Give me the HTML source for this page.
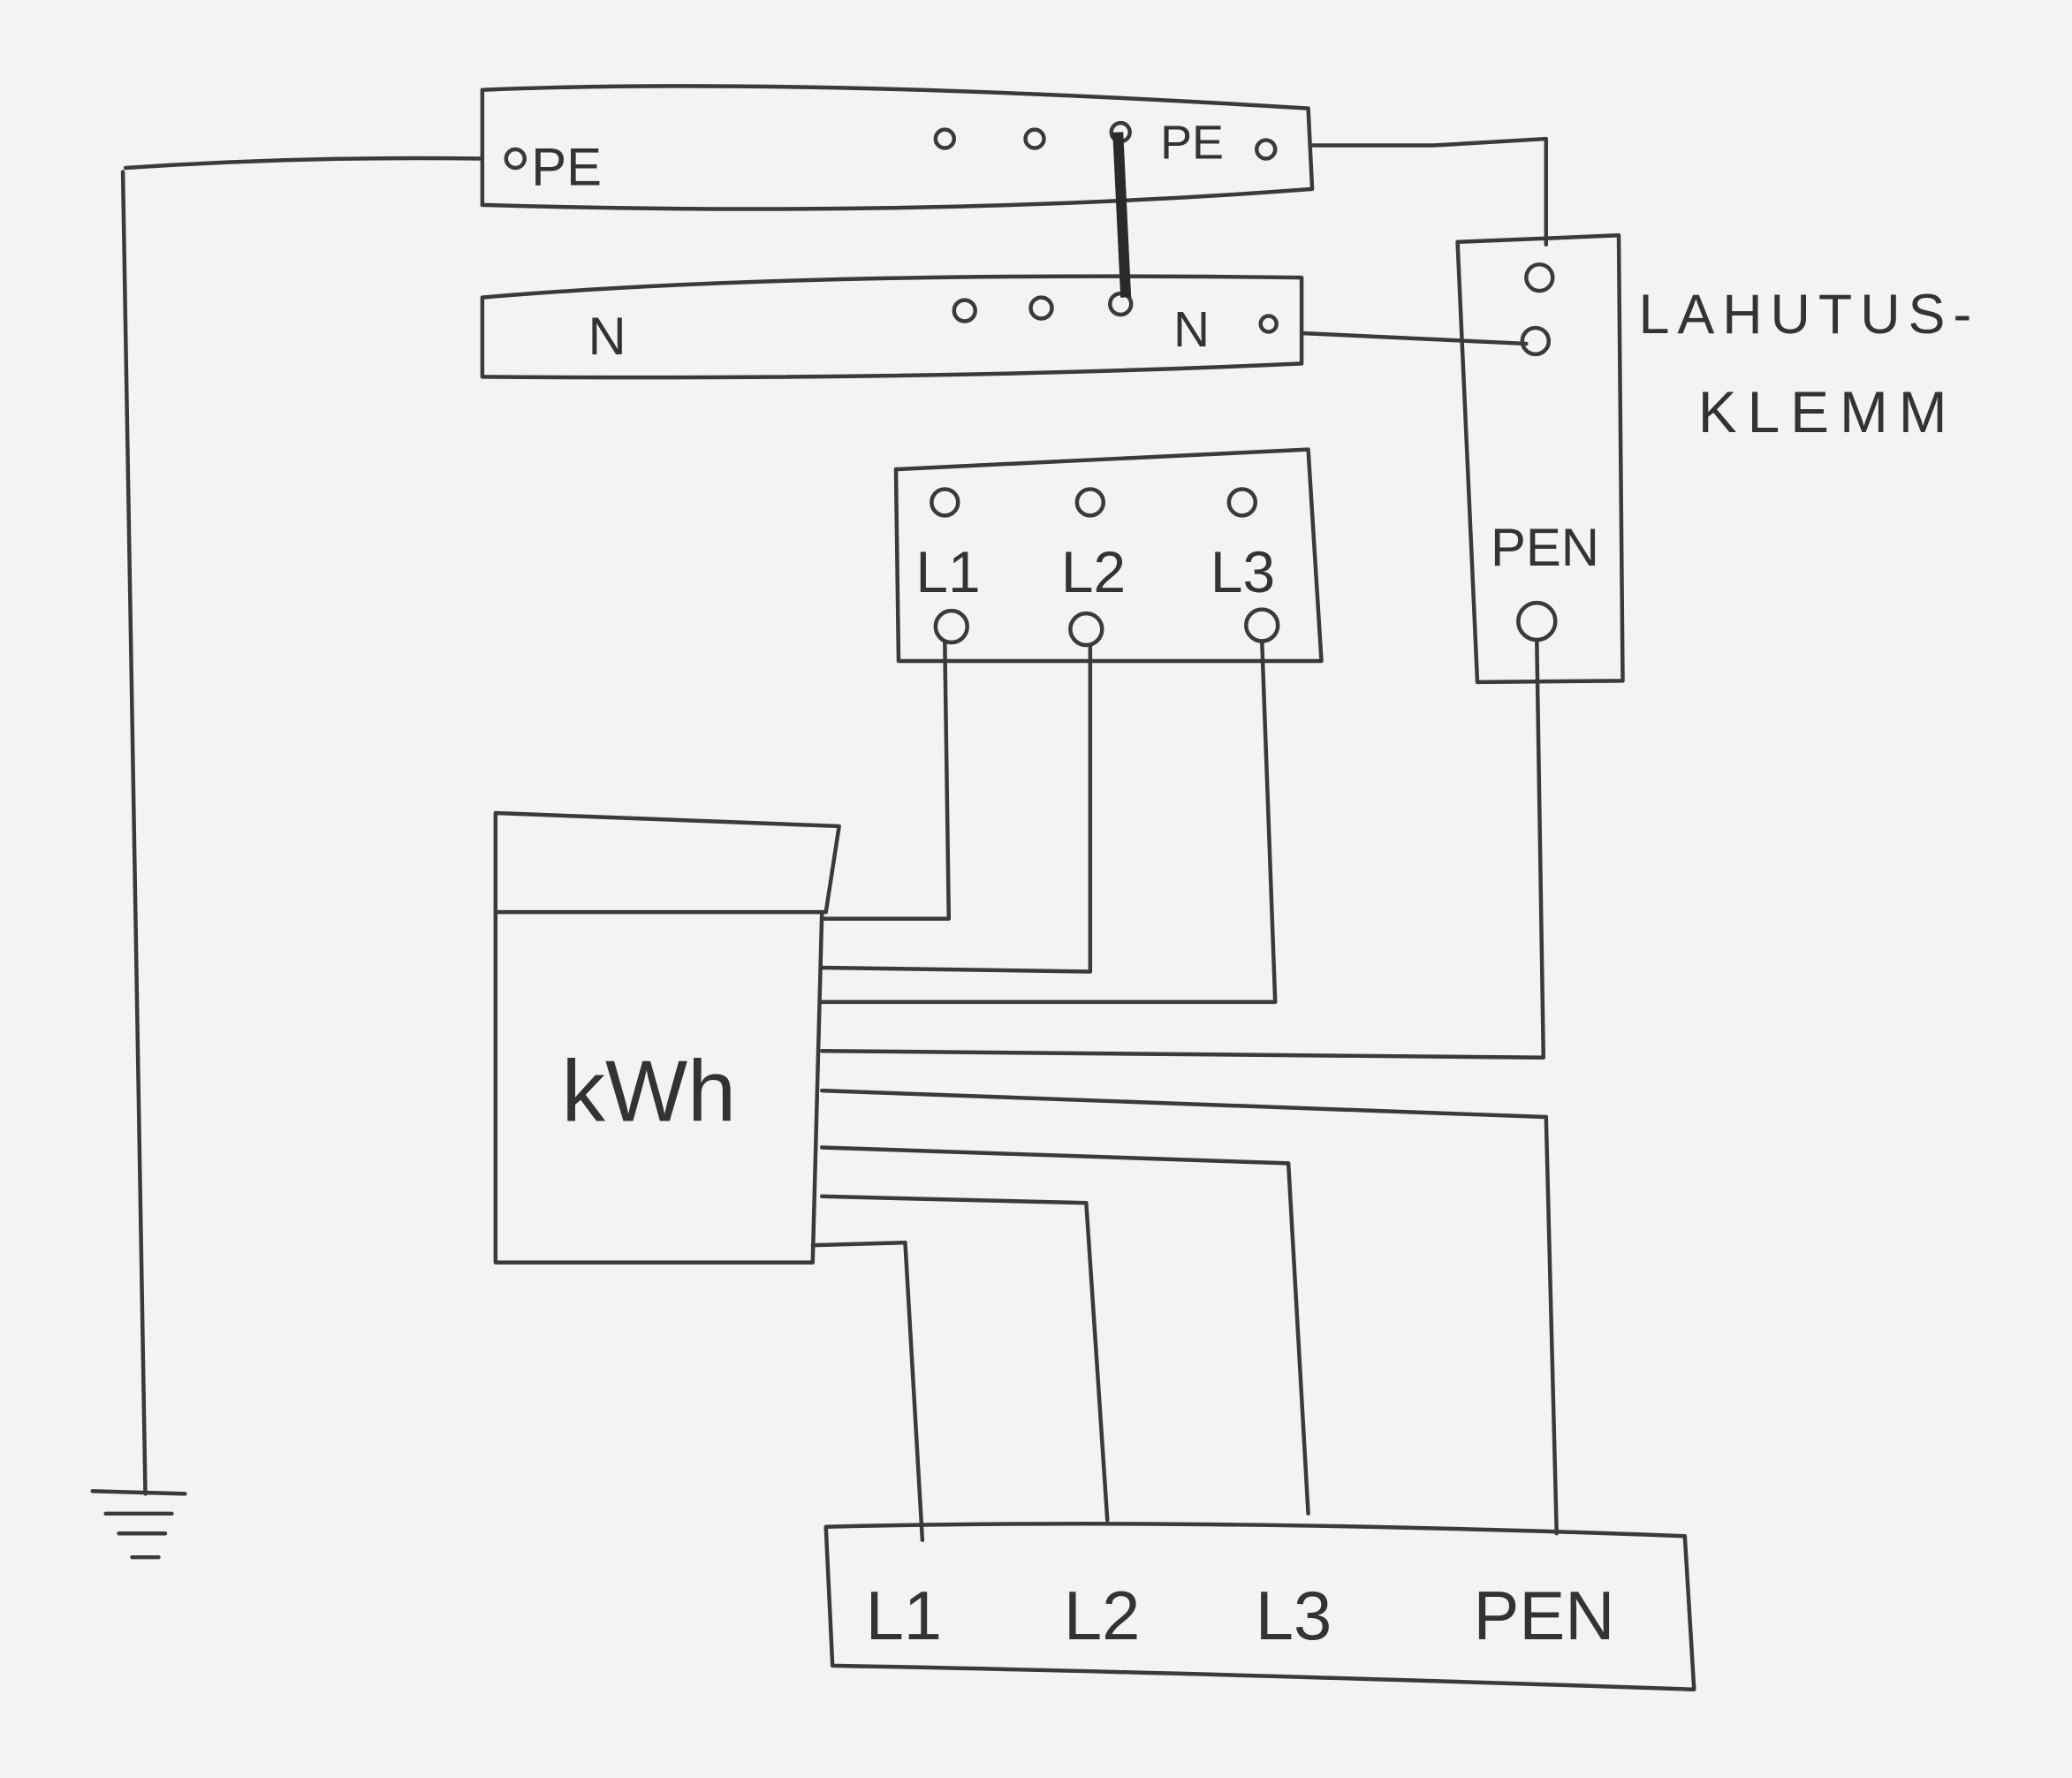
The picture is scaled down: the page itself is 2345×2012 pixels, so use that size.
<!DOCTYPE html>
<html><head><meta charset="utf-8"><style>
html,body{margin:0;padding:0;background:#f3f3f2;}
svg{display:block;}
text{font-family:"Liberation Sans",sans-serif;fill:#333;}
</style></head><body>
<svg width="2345" height="2012" viewBox="0 0 1568 1345" preserveAspectRatio="none" xmlns="http://www.w3.org/2000/svg">
<rect width="1568" height="1345" fill="#f3f3f2"/>
<g fill="none" stroke="#3a3a3a" stroke-width="3" stroke-linecap="round" stroke-linejoin="round">
<!-- PE bar -->
<path d="M365,68 Q600,58 990,82 L993,143 Q700,165 365,155 Z"/>
<circle cx="390" cy="120" r="7"/>
<circle cx="715" cy="105" r="7"/><circle cx="783" cy="105" r="7"/><circle cx="848" cy="100" r="7"/>
<circle cx="958" cy="113" r="7"/>
<!-- earth wire -->
<path d="M95,127 Q230,118 365,120"/>
<path d="M93,130 L110,1130"/>
<path d="M70,1128 L140,1130"/><path d="M80,1145 L130,1145"/><path d="M90,1160 L125,1160"/><path d="M100,1178 L120,1178"/>
<!-- PE to lahutus -->
<path d="M993,110 L1085,110 L1170,105 L1170,185"/>
<!-- N bar -->
<path d="M365,225 Q600,205 985,210 L985,275 Q700,288 365,285 Z"/>
<circle cx="730" cy="235" r="8"/><circle cx="788" cy="233" r="8"/><circle cx="848" cy="230" r="8"/>
<circle cx="960" cy="245" r="6"/>
<path d="M985,252 L1155,260"/>
<!-- lahutus box -->
<path d="M1103,183 L1225,178 L1228,515 L1118,516 Z"/>
<circle cx="1165" cy="210" r="10"/><circle cx="1162" cy="258" r="10"/>
<circle cx="1163" cy="470" r="14"/>
<!-- L box -->
<path d="M678,355 L990,340 L1000,500 L680,500 Z"/>
<circle cx="715" cy="380" r="10"/><circle cx="825" cy="380" r="10"/><circle cx="940" cy="380" r="10"/>
<circle cx="720" cy="474" r="12"/><circle cx="822" cy="476" r="12"/><circle cx="955" cy="473" r="12"/>
<!-- upper wires -->
<path d="M715,486 L718,695 L622,695"/>
<path d="M825,488 L825,735 L622,732"/>
<path d="M955,485 L965,758 L622,758"/>
<path d="M1163,485 L1168,800 L622,795"/>
<!-- kWh meter -->
<path d="M375,615 L635,625 L625,690 L375,690 Z"/>
<path d="M375,690 L375,955 L615,955 L622,690"/>
<!-- lower wires -->
<path d="M622,825 L1170,845 L1178,1160"/>
<path d="M622,868 L975,880 L990,1145"/>
<path d="M622,905 L822,910 L838,1150"/>
<path d="M615,942 L685,940 L698,1165"/>
<!-- bottom bar -->
<path d="M625,1155 Q900,1148 1275,1162 L1282,1278 Q900,1265 630,1260 Z"/>
</g>
<path d="M846,100 L852,225" stroke="#2a2a2a" stroke-width="8" fill="none"/>
<text x="402" y="140" font-size="40">PE</text>
<text x="878" y="120" font-size="36">PE</text>
<text x="445" y="268" font-size="40">N</text>
<text x="888" y="262" font-size="38">N</text>
<text x="1240" y="252" font-size="42" letter-spacing="6">LAHUTUS-</text>
<text x="1285" y="327" font-size="44" letter-spacing="8">KLEMM</text>
<text x="1128" y="428" font-size="40">PEN</text>
<text x="693" y="448" font-size="44">L1</text>
<text x="803" y="448" font-size="44">L2</text>
<text x="916" y="448" font-size="44">L3</text>
<text x="425" y="848" font-size="66">kWh</text>
<text x="655" y="1240" font-size="52">L1</text>
<text x="805" y="1240" font-size="52">L2</text>
<text x="950" y="1240" font-size="52">L3</text>
<text x="1115" y="1240" font-size="52">PEN</text>
</svg>
</body></html>
